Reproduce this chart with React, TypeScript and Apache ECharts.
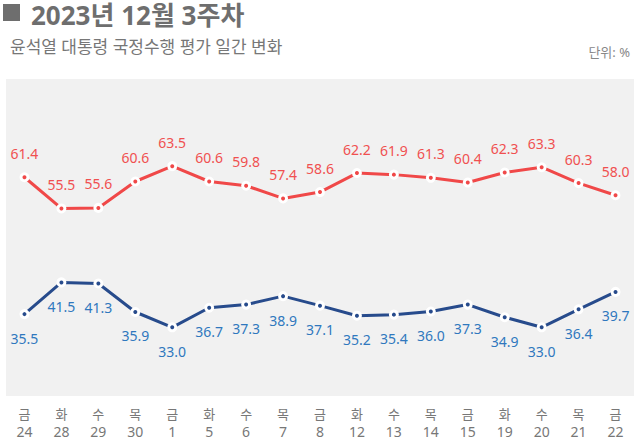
import React, { useEffect, useRef } from "react";
import * as echarts from "echarts";

const days = ["금", "화", "수", "목", "금", "화", "수", "목", "금", "화", "수", "목", "금", "화", "수", "목", "금"];
const dates = ["24", "28", "29", "30", "1", "5", "6", "7", "8", "12", "13", "14", "15", "19", "20", "21", "22"];
const negative = [61.4, 55.5, 55.6, 60.6, 63.5, 60.6, 59.8, 57.4, 58.6, 62.2, 61.9, 61.3, 60.4, 62.3, 63.3, 60.3, 58.0];
const positive = [35.5, 41.5, 41.3, 35.9, 33.0, 36.7, 37.3, 38.9, 37.1, 35.2, 35.4, 36.0, 37.3, 34.9, 33.0, 36.4, 39.7];

const FONT = "Noto Sans, Noto Sans CJK KR, sans-serif";

export default function App() {
  const ref = useRef<HTMLDivElement>(null);
  useEffect(() => {
    if (!ref.current) return;
    const chart = echarts.init(ref.current, null, { renderer: "svg" });
    const axisBase = {
      type: "category",
      boundaryGap: true,
      position: "bottom",
      axisLine: { show: false },
      axisTick: { show: false },
      splitLine: { show: false },
    };
    chart.setOption({
      animation: false,
      backgroundColor: "#ffffff",
      textStyle: { fontFamily: FONT },
      title: {
        text: "2023년 12월 3주차",
        left: 31,
        top: 2,
        padding: 0,
        textStyle: { fontFamily: FONT, fontSize: 26, lineHeight: 26, fontWeight: "bold", color: "#6e6e6e" },
      },
      graphic: [
        { type: "rect", left: 3, top: 4, shape: { width: 17, height: 17 }, style: { fill: "#6e6e6e" } },
        {
          type: "text",
          left: 10,
          top: 38,
          style: { text: "윤석열 대통령 국정수행 평가 일간 변화", fontFamily: FONT, fontSize: 17, fill: "#777777" },
        },
        {
          type: "text",
          right: 10,
          top: 45,
          style: { text: "단위: %", fontFamily: FONT, fontSize: 13, fill: "#888888" },
        },
      ],
      grid: {
        left: 6,
        right: 6,
        top: 79,
        bottom: 48,
        show: true,
        backgroundColor: "#f1f1f1",
        borderWidth: 0,
      },
      xAxis: [
        {
          ...axisBase,
          data: days,
          axisLabel: { interval: 0, margin: 11, color: "#777777", fontSize: 13, fontFamily: FONT },
        },
        {
          ...axisBase,
          data: dates,
          axisLabel: { interval: 0, margin: 28, color: "#777777", fontSize: 14, fontFamily: "Noto Sans" },
        },
      ],
      yAxis: {
        type: "value",
        min: 20,
        max: 80,
        show: false,
        splitLine: { show: false },
      },
      series: [
        {
          type: "line",
          data: negative,
          symbol: "circle",
          symbolSize: 7,
          lineStyle: { color: "#f04848", width: 3 },
          itemStyle: { color: "#f04848", borderColor: "#ffffff", borderWidth: 3 },
          label: {
            show: true,
            position: "top",
            distance: 12,
            color: "#f05050",
            fontSize: 14,
            fontFamily: FONT,
            formatter: (p: any) => p.value.toFixed(1),
          },
        },
        {
          type: "line",
          data: positive,
          symbol: "circle",
          symbolSize: 7,
          lineStyle: { color: "#274b8c", width: 3 },
          itemStyle: { color: "#274b8c", borderColor: "#ffffff", borderWidth: 3 },
          label: {
            show: true,
            position: "bottom",
            distance: 12,
            color: "#2f78be",
            fontSize: 14,
            fontFamily: FONT,
            formatter: (p: any) => p.value.toFixed(1),
          },
        },
      ],
    });
    return () => chart.dispose();
  }, []);
  return (
    <div
      ref={ref}
      style={{ width: 640, height: 444, position: "fixed", left: 0, top: 0, fontFamily: "Noto Sans, sans-serif" }}
    />
  );
}
